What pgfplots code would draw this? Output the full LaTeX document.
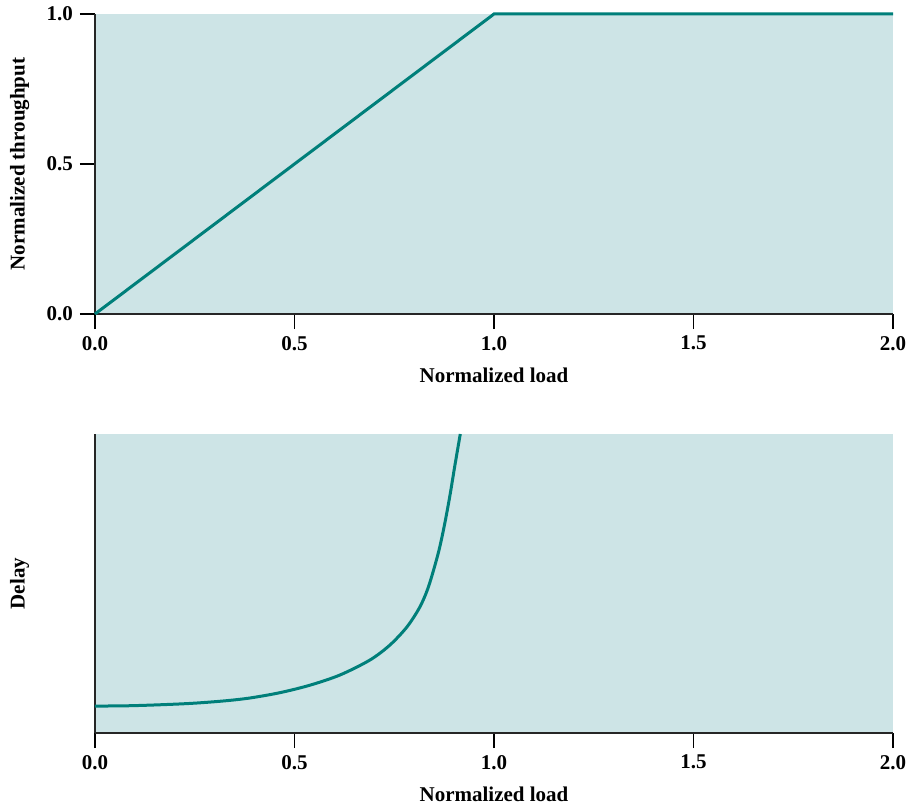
\documentclass[border=0pt]{standalone}
\usepackage{pgfplots}
\pgfplotsset{compat=1.18}
\usepackage{fontspec}
\setmainfont{Liberation Serif}
\definecolor{bgteal}{HTML}{CDE4E6}
\definecolor{lineteal}{HTML}{007F7A}
\pgfplotsset{
  common/.style={
    scale only axis, width=399pt,
    xmin=0, xmax=2, ymin=0, ymax=1,
    axis x line=bottom, axis y line=left,
    axis line style={-, line width=0.7pt, black!85},
    axis background/.style={fill=bgteal},
    tick align=outside, major tick length=7.5pt,
    tick style={line width=0.6pt, black},
    xtick={0,0.5,1,1.5,2},
    /pgf/number format/assume math mode=true,
    /pgf/number format/.cd, fixed, fixed zerofill, precision=1, /pgfplots/.cd,
    ticklabel style={font=\fontsize{10.5}{12}\selectfont\bfseries},
    label style={font=\fontsize{10.5}{12}\selectfont\bfseries},
    xlabel={Normalized load},
    xlabel style={at={(axis description cs:0.5,-0.157)}, anchor=north},
    ylabel style={at={(axis description cs:-0.1153,0.5)}, anchor=north, rotate=0},
    clip=false,
  }
}
\begin{document}
\begin{tikzpicture}
\path[use as bounding box] (-47.5pt,-247pt) rectangle (410.5pt,157pt);
\begin{axis}[common, height=150pt, at={(0,0)}, anchor=south west,
  ytick={0,0.5,1},
  ylabel={Normalized throughput},
]
\addplot[lineteal, line width=1.5pt] coordinates {(0,0) (1,1) (2,1)};
\end{axis}
\begin{axis}[common, height=149.5pt, at={(0,-209.5pt)}, anchor=south west,
  ytick=\empty,
  ylabel={Delay},
]
\addplot[lineteal, line width=1.5pt, smooth] coordinates {
(0,0.090) (0.08,0.091) (0.155,0.094) (0.24,0.099) (0.321,0.107) (0.388,0.117) (0.464,0.135)
(0.539,0.160) (0.614,0.194) (0.689,0.244) (0.739,0.294) (0.782,0.355)
(0.814,0.421) (0.836,0.490) (0.860,0.600) (0.875,0.690) (0.889,0.790)
(0.902,0.895) (0.9155,1.0)};
\end{axis}
\end{tikzpicture}
\end{document}
